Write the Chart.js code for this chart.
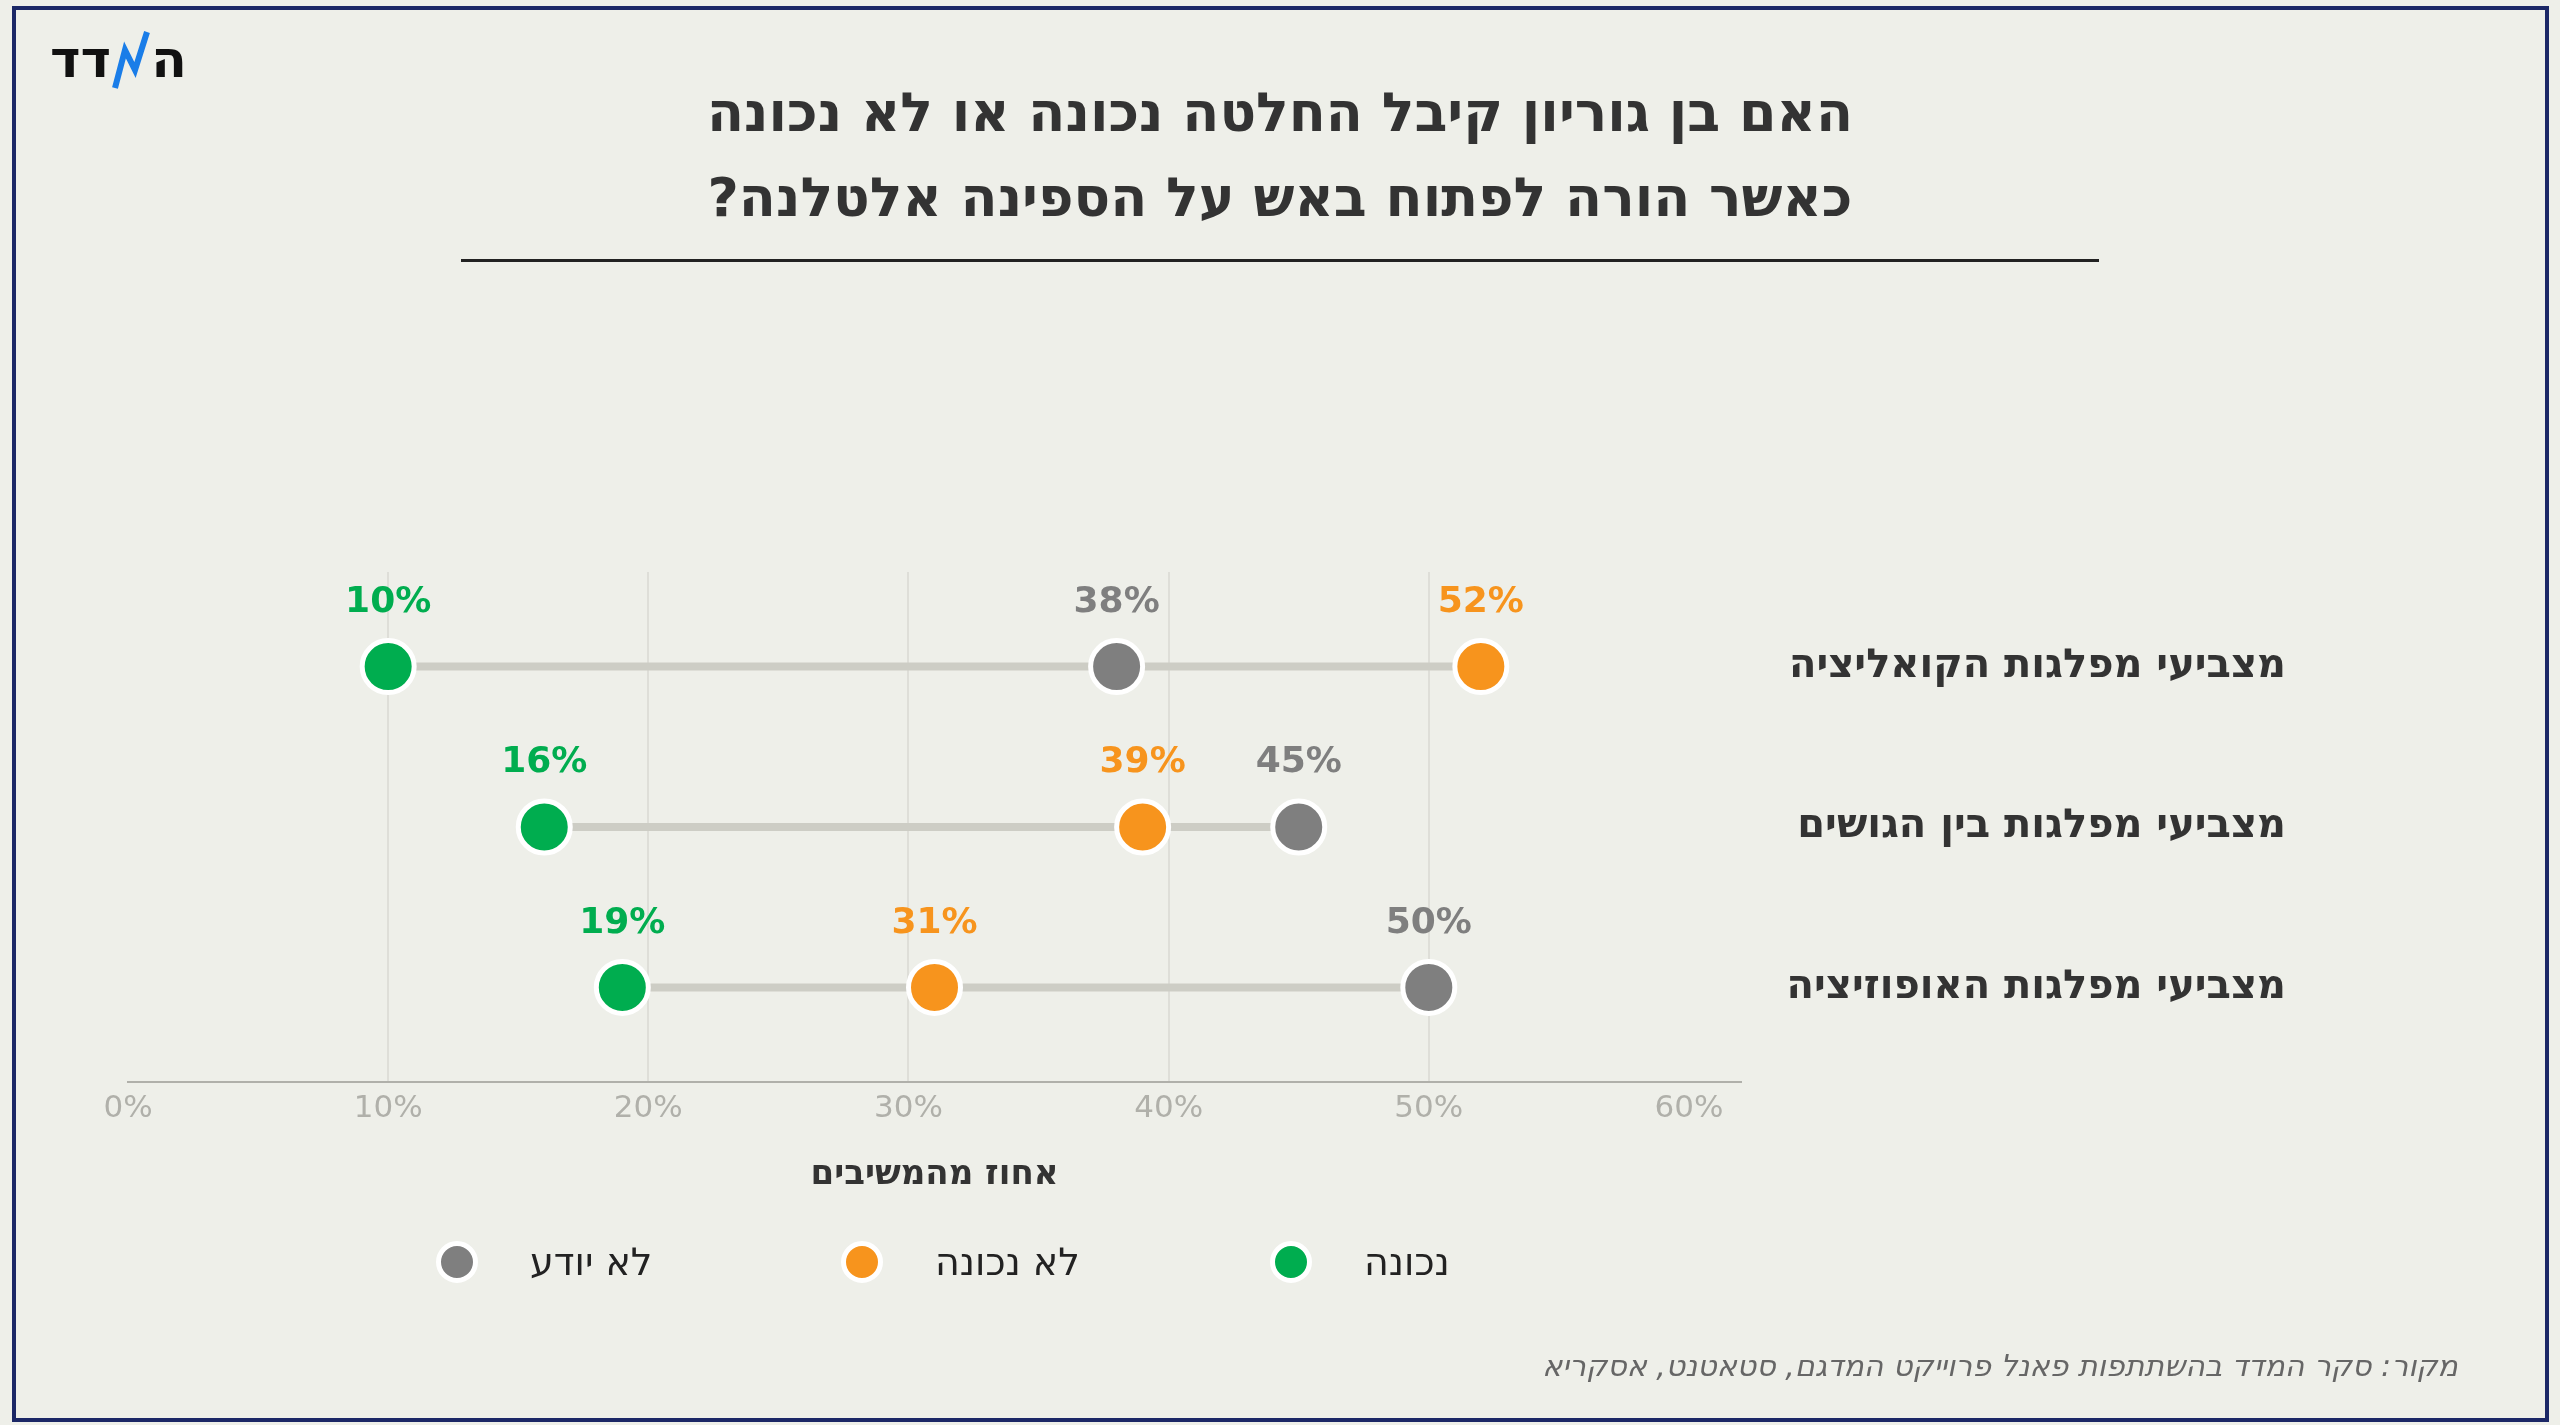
<!DOCTYPE html>
<html lang="he">
<head>
<meta charset="utf-8">
<script src="https://cdn.jsdelivr.net/npm/chart.js@4"></script>
<style>
  body { margin: 0; width: 2560px; height: 1425px; background: #eeefe9; font-family: "DejaVu Sans", sans-serif; overflow: hidden; }
  #frame { position: absolute; left: 12px; top: 6px; width: 2537px; height: 1416px; border: 4px solid #1b2766; box-sizing: border-box; }
  #title { position: absolute; left: 0; width: 2560px; top: 70px; text-align: center; direction: rtl; font-weight: bold; font-size: 54px; line-height: 85px; color: #333; }
  #rule { position: absolute; left: 461px; width: 1638px; top: 259px; height: 3px; background: #222; }
  #logo { position: absolute; left: 50px; top: 28px; font-size: 52px; font-weight: bold; color: #111; direction: ltr; display: flex; align-items: center; }
  #wrap { position: absolute; left: 0; top: 0; width: 2560px; height: 1425px; }
  .leg { position: absolute; top: 1240px; display: flex; align-items: center; font-size: 38px; color: #222; direction: ltr; }
  .dot { width: 32px; height: 32px; border-radius: 50%; border: 5px solid #fff; margin-right: 52px; }
  #source { position: absolute; right: 102px; top: 1348px; font-size: 30px; font-style: italic; color: #666; direction: rtl; }
</style>
</head>
<body>
<div id="frame"></div>
<div id="logo"><span>דד</span><svg width="40" height="62" viewBox="0 0 40 62"><polyline points="4,60 14,22 24,42 36,4" fill="none" stroke="#1a7de8" stroke-width="6"/></svg><span>ה</span></div>
<div id="title">האם בן גוריון קיבל החלטה נכונה או לא נכונה<br>כאשר הורה לפתוח באש על הספינה אלטלנה?</div>
<div id="rule"></div>
<div id="wrap"><canvas id="c" width="2560" height="1425"></canvas></div>
<div class="leg" style="left:436px"><div class="dot" style="background:#7f7f7f"></div>לא יודע</div>
<div class="leg" style="left:841px"><div class="dot" style="background:#f7941d"></div>לא נכונה</div>
<div class="leg" style="left:1270px"><div class="dot" style="background:#00ad4f"></div>נכונה</div>
<div id="source">מקור: סקר המדד בהשתתפות פאנל פרוייקט המדגם, סטאטנט, אסקריא</div>
<script>
const categories = ['מצביעי מפלגות הקואליציה', 'מצביעי מפלגות בין הגושים', 'מצביעי מפלגות האופוזיציה'];
const correct = [10, 16, 19];
const incorrect = [52, 39, 31];
const dontKnow = [38, 45, 50];
const seriesNames = ['נכונה', 'לא נכונה', 'לא יודע'];
const colors = ['#00ad4f', '#f7941d', '#7f7f7f'];
const xTicks = [0, 10, 20, 30, 40, 50, 60];

const series = [correct, incorrect, dontKnow];

const lineSets = categories.map((c, i) => {
  const vals = series.map(s => s[i]);
  return {
    type: 'line',
    data: [{ x: Math.min(...vals), y: i }, { x: Math.max(...vals), y: i }],
    borderColor: '#cdcdc5',
    borderWidth: 8,
    pointRadius: 0,
    order: 2
  };
});

const pointSets = series.map((s, k) => ({
  type: 'scatter',
  label: seriesNames[k],
  data: s.map((v, i) => ({ x: v, y: i })),
  backgroundColor: colors[k],
  borderColor: '#fff',
  borderWidth: 5,
  pointRadius: 26,
  pointHoverRadius: 26,
  order: 1
}));

const valueLabels = {
  id: 'valueLabels',
  afterDatasetsDraw(chart) {
    const ctx = chart.ctx;
    ctx.save();
    ctx.font = 'bold 36px "DejaVu Sans"';
    ctx.textAlign = 'center';
    ctx.textBaseline = 'middle';
    chart.data.datasets.forEach((ds, di) => {
      if (ds.type !== 'scatter') return;
      chart.getDatasetMeta(di).data.forEach((pt, i) => {
        ctx.fillStyle = ds.backgroundColor;
        ctx.fillText(ds.data[i].x + '%', pt.x, pt.y - 64);
      });
    });
    ctx.restore();
  }
};

new Chart(document.getElementById('c'), {
  data: { datasets: [...lineSets, ...pointSets] },
  options: {
    responsive: false,
    animation: false,
    layout: { padding: { left: 128, right: 274, top: 572, bottom: 225 } },
    plugins: { legend: { display: false }, tooltip: { enabled: false } },
    scales: {
      x: {
        type: 'linear', min: 0, max: 62,
        afterBuildTicks: s => { s.ticks = xTicks.map(v => ({ value: v })); },
        ticks: { callback: v => v + '%', color: '#b0b0aa', font: { size: 31, family: 'DejaVu Sans' }, padding: 8 },
        grid: {
          color: c => (c.tick && (c.tick.value === 0 || c.tick.value === 60)) ? 'rgba(0,0,0,0)' : '#deded8',
          lineWidth: 2, drawTicks: false
        },
        border: { color: '#b0b0aa', width: 2 },
        title: { display: true, text: 'אחוז מהמשיבים', color: '#333', font: { size: 34, weight: 'bold', family: 'DejaVu Sans' }, padding: { top: 20 } }
      },
      y: {
        type: 'linear', position: 'right', min: -0.59, max: 2.59, reverse: true,
        afterBuildTicks: s => { s.ticks = [0, 1, 2].map(v => ({ value: v })); },
        afterFit: s => { s.width = 545; },
        ticks: { callback: v => categories[v], crossAlign: 'far', color: '#333', font: { size: 40, weight: 'bold', family: 'DejaVu Sans' } },
        grid: { display: false },
        border: { display: false }
      }
    }
  },
  plugins: [valueLabels]
});
</script>
</body>
</html>
